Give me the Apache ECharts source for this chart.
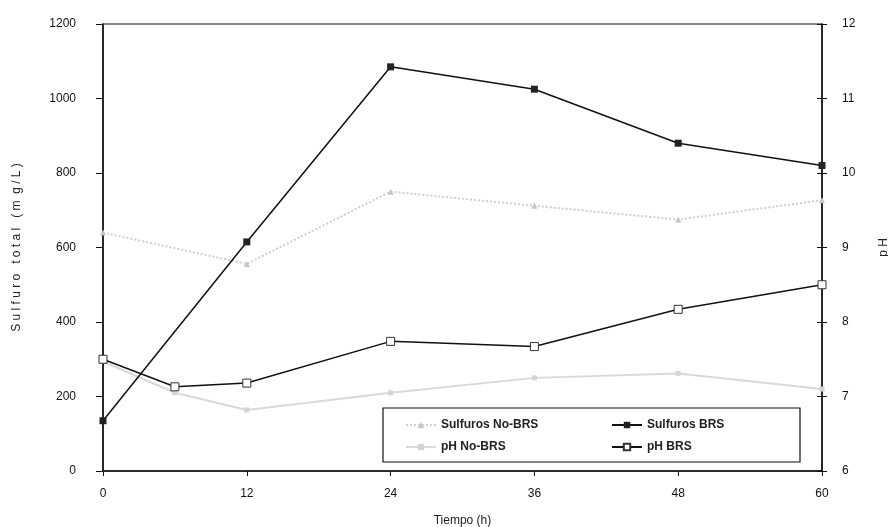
<!DOCTYPE html>
<html>
<head>
<meta charset="utf-8">
<script src="https://cdn.jsdelivr.net/npm/echarts@6/dist/echarts.min.js"></script>
<style>
  html, body { margin: 0; padding: 0; background: #fff; }
  #chart { width: 888px; height: 527px; }
</style>
</head>
<body>
<div id="chart"></div>
<script>
// tiempo (h)
var tSulfBRS = [0, 12, 24, 36, 48, 60];
var sulfurosBRS = [135, 615, 1085, 1025, 880, 820];

var tSulfNoBRS = [0, 12, 24, 36, 48, 60];
var sulfurosNoBRS = [640, 556, 750, 712, 675, 727];

var tPH = [0, 6, 12, 24, 36, 48, 60];
var phBRS = [7.5, 7.13, 7.18, 7.74, 7.67, 8.17, 8.5];
var phNoBRS = [7.47, 7.05, 6.82, 7.05, 7.25, 7.31, 7.1];

function pairs(xs, ys) {
  return xs.map(function (x, i) { return [x, ys[i]]; });
}

var myChart = echarts.init(document.getElementById('chart'));

var font = 'Liberation Sans, Arial';
var labelStyle = { color: '#111', fontSize: 12, fontFamily: font };
var nameStyle = { color: '#222', fontSize: 12, fontFamily: font };

var option = {
  backgroundColor: '#fff',
  animation: false,
  grid: {
    left: 103, right: 66, top: 24, bottom: 56,
    outerBoundsMode: 'none', containLabel: false,
    show: true, borderColor: '#111', borderWidth: 1.2
  },
  xAxis: {
    type: 'value', min: 0, max: 60, interval: 12,
    name: 'Tiempo (h)', nameLocation: 'middle', nameGap: 44,
    nameTextStyle: nameStyle,
    axisLine: { lineStyle: { color: '#111', width: 1.5 } },
    axisTick: { show: true, length: 5, lineStyle: { color: '#111' } },
    axisLabel: Object.assign({ margin: 17 }, labelStyle),
    splitLine: { show: false }
  },
  yAxis: [
    {
      type: 'value', min: 0, max: 1200, interval: 200,
      name: 'S u l f u r o   t o t a l   ( m  g / L )', nameLocation: 'middle', nameGap: 80, nameRotate: 90,
      nameTextStyle: nameStyle,
      axisLine: { show: true, lineStyle: { color: '#111', width: 1.5 } },
      axisTick: { show: true, length: 7, lineStyle: { color: '#111' } },
      axisLabel: Object.assign({ margin: 27, formatter: function (v) { return String(v); } }, labelStyle),
      splitLine: { show: false }
    },
    {
      type: 'value', min: 6, max: 12, interval: 1, position: 'right',
      name: 'p H', nameLocation: 'middle', nameGap: 56, nameRotate: 90,
      nameTextStyle: nameStyle,
      axisLine: { show: true, lineStyle: { color: '#111', width: 1.5 } },
      axisTick: { show: true, inside: false, length: 5, lineStyle: { color: '#111' } },
      axisLabel: Object.assign({ margin: 20 }, labelStyle),
      splitLine: { show: false }
    },
    {
      // inner half of the crossing ticks on the right axis
      type: 'value', min: 6, max: 12, interval: 1, position: 'right',
      axisLine: { show: false },
      axisTick: { show: true, inside: true, length: 5, lineStyle: { color: '#111' } },
      axisLabel: { show: false },
      splitLine: { show: false }
    }
  ],
  legend: [
    {
      orient: 'vertical', left: 400, top: 414, itemGap: 10, itemWidth: 30, itemHeight: 8,
      textStyle: { color: '#222', fontSize: 12, fontWeight: 'bold', fontFamily: font },
      data: ['Sulfuros No-BRS', 'pH No-BRS']
    },
    {
      orient: 'vertical', left: 606, top: 414, itemGap: 10, itemWidth: 30, itemHeight: 8,
      textStyle: { color: '#222', fontSize: 12, fontWeight: 'bold', fontFamily: font },
      data: ['Sulfuros BRS', 'pH BRS']
    }
  ],
  graphic: [
    {
      type: 'rect', z: 0, zlevel: 0,
      shape: { x: 383, y: 408, width: 417, height: 54 },
      style: { fill: '#fff', stroke: '#111', lineWidth: 1.2 }
    }
  ],
  series: [
    {
      name: 'Sulfuros No-BRS', type: 'line', yAxisIndex: 0,
      data: pairs(tSulfNoBRS, sulfurosNoBRS),
      symbol: 'triangle', symbolSize: 6,
      lineStyle: { color: '#cfcfcf', width: 2, type: 'dotted' },
      itemStyle: { color: '#c4c4c4' },
      z: 2
    },
    {
      name: 'pH No-BRS', type: 'line', yAxisIndex: 1,
      data: pairs(tPH, phNoBRS),
      symbol: 'rect', symbolSize: 5,
      lineStyle: { color: '#d9d9d9', width: 2 },
      itemStyle: { color: '#d4d4d4' },
      z: 2
    },
    {
      name: 'Sulfuros BRS', type: 'line', yAxisIndex: 0,
      data: pairs(tSulfBRS, sulfurosBRS),
      symbol: 'rect', symbolSize: 7,
      lineStyle: { color: '#111', width: 1.5 },
      itemStyle: { color: '#222' },
      z: 3
    },
    {
      name: 'pH BRS', type: 'line', yAxisIndex: 1,
      data: pairs(tPH, phBRS),
      symbol: 'rect', symbolSize: 8,
      lineStyle: { color: '#111', width: 1.5 },
      itemStyle: { color: '#fff', borderColor: '#333', borderWidth: 1 },
      z: 3
    }
  ]
};

myChart.setOption(option);
</script>
</body>
</html>
